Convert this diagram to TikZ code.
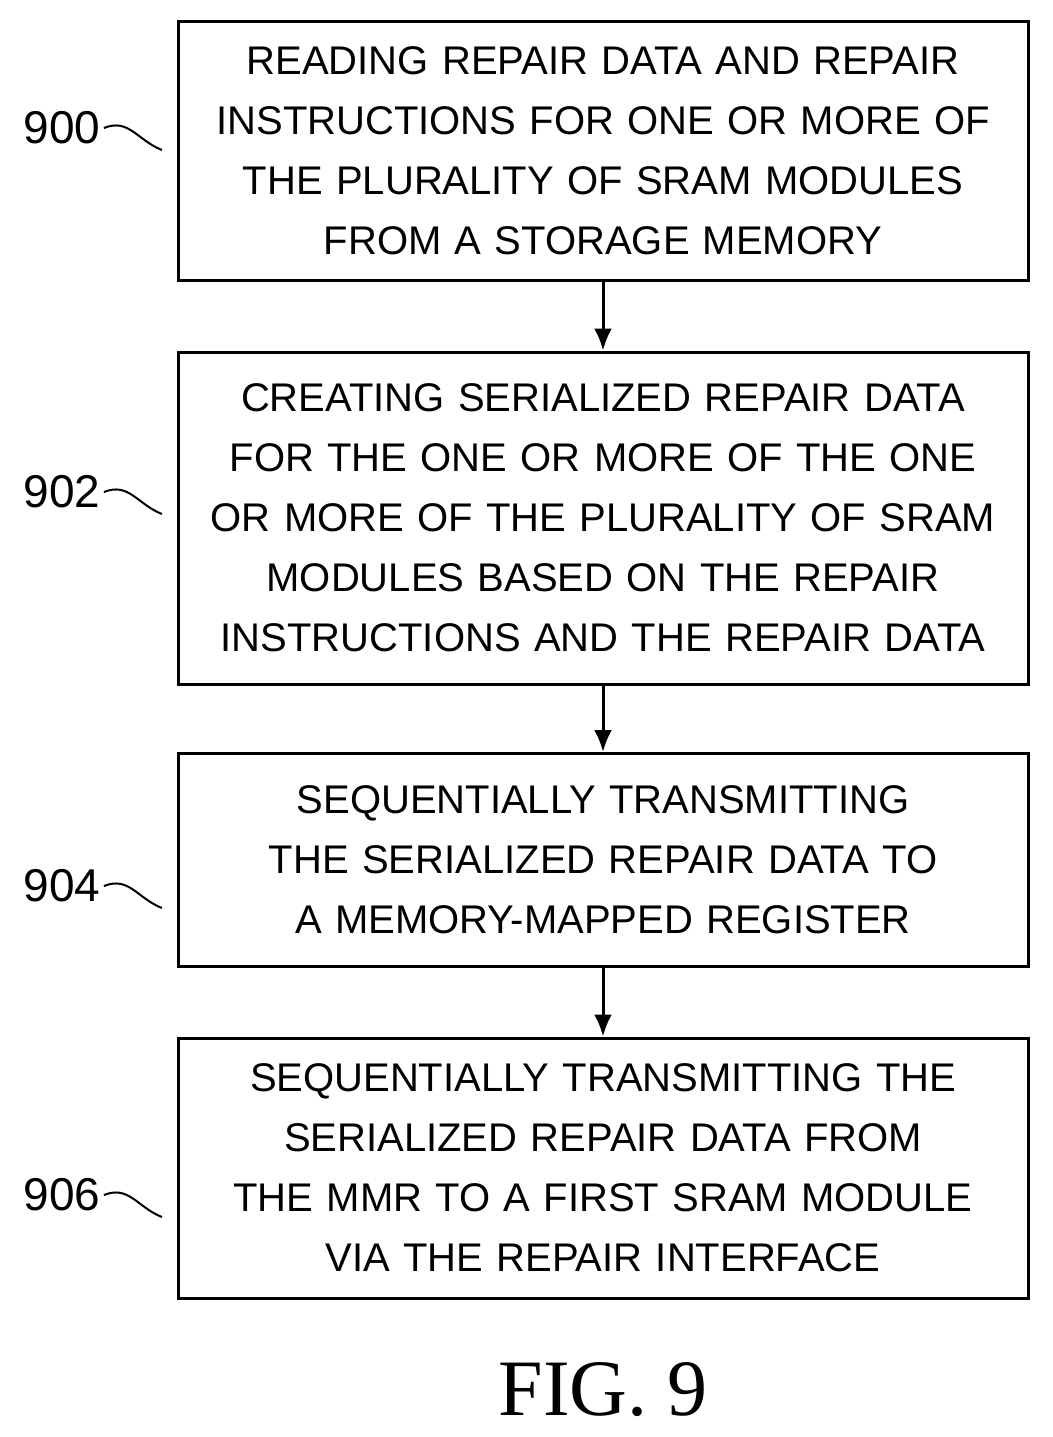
\documentclass[tikz,border=0pt]{standalone}
\usepackage{fontspec}
\setmainfont{Liberation Sans}
\newfontfamily\figfont{Liberation Serif}
\usetikzlibrary{arrows.meta}
\begin{document}
\begin{tikzpicture}[x=1pt,y=-1pt,
  stepbox/.style={draw, line width=3pt, minimum width=850pt, text width=830pt, align=center,
    font=\fontsize{40}{60}\selectfont, inner sep=0pt},
  ref/.style={font=\fontsize{46}{46}\selectfont},
  flow/.style={-{Latex[length=22pt,width=18pt]}, line width=3pt},
  lead/.style={line width=2pt}]
\useasboundingbox (0,0) rectangle (1052,1437);
% steps
\node[stepbox, minimum height=258pt] (s900) at (603,151) {READING REPAIR DATA AND REPAIR\\INSTRUCTIONS FOR ONE OR MORE OF\\THE PLURALITY OF SRAM MODULES\\FROM A STORAGE MEMORY};
\node[stepbox, minimum height=332pt] (s902) at (603,518) {CREATING SERIALIZED REPAIR DATA\\FOR THE ONE OR MORE OF THE ONE\\OR MORE OF THE PLURALITY OF SRAM\\MODULES BASED ON THE REPAIR\\INSTRUCTIONS AND THE REPAIR DATA};
\node[stepbox, minimum height=213pt] (s904) at (603,860) {SEQUENTIALLY TRANSMITTING\\THE SERIALIZED REPAIR DATA TO\\A MEMORY-MAPPED REGISTER};
\node[stepbox, minimum height=260pt] (s906) at (603,1168) {SEQUENTIALLY TRANSMITTING THE\\SERIALIZED REPAIR DATA FROM\\THE MMR TO A FIRST SRAM MODULE\\VIA THE REPAIR INTERFACE};
% arrows
\draw[flow] (s900) -- (s902);
\draw[flow] (s902) -- (s904);
\draw[flow] (s904) -- (s906);
% reference labels
\foreach \n/\y in {900/128, 902/492, 904/886, 906/1195} {
  \node[ref] (l\n) at (62,\y) {\n};
  \draw[lead] (l\n.east) .. controls ++(25,-10) and ++(-25,-10) .. ++(58,22);
}
\node[font=\figfont\fontsize{80}{80}\selectfont] (fig) at (603,1390) {FIG. 9};
\end{tikzpicture}
\end{document}
